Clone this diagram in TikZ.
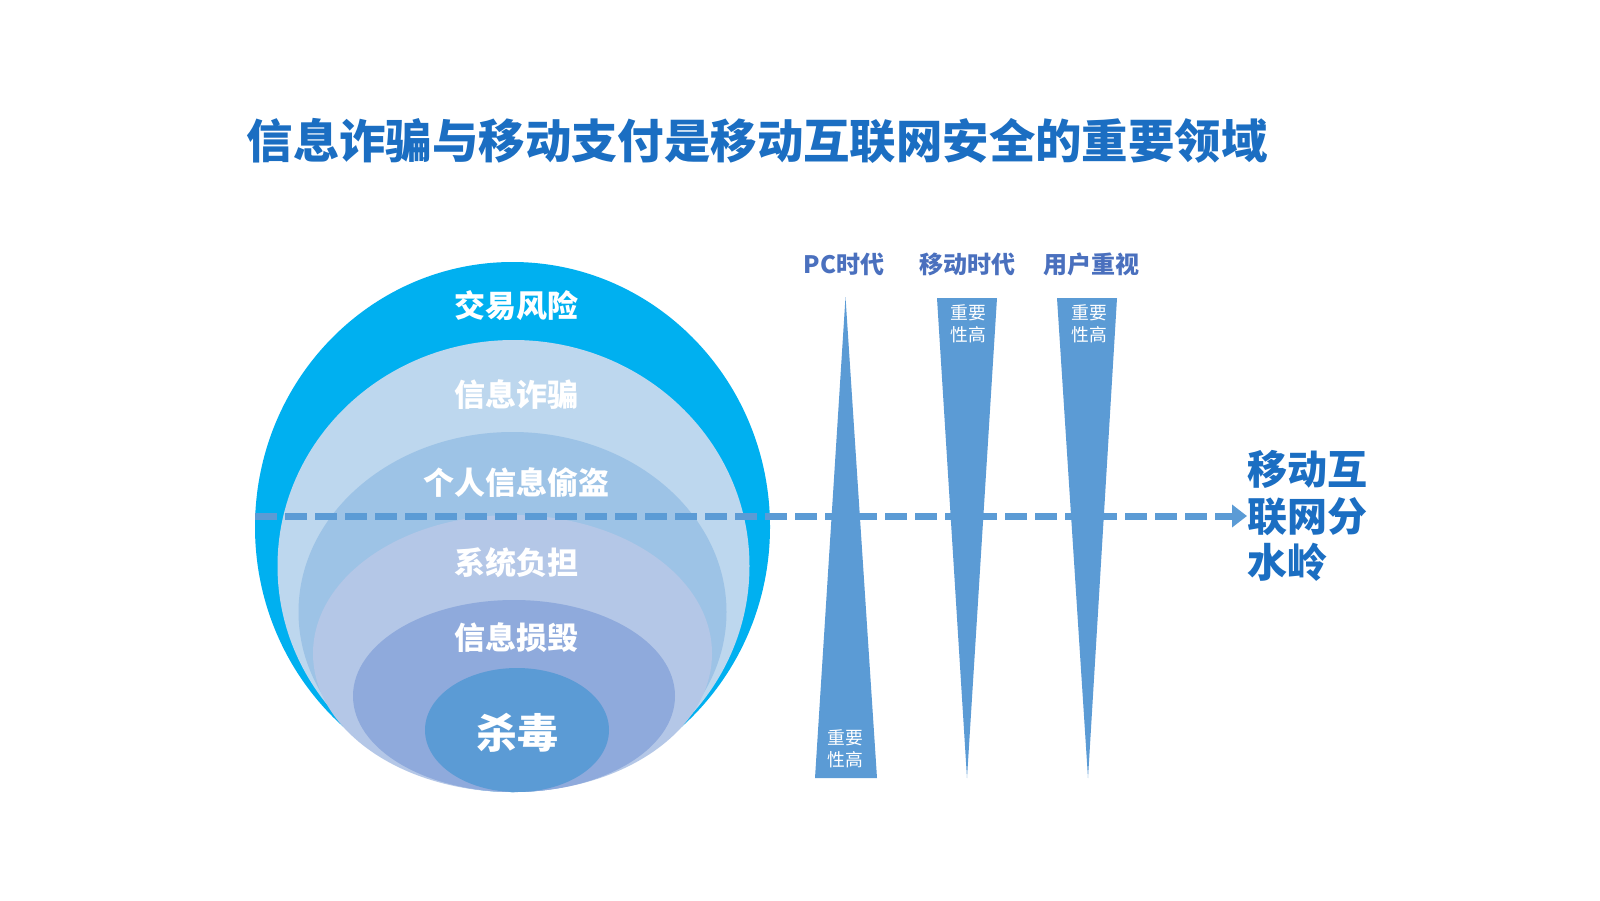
\documentclass[tikz,border=0pt]{standalone}
\usepackage{fontspec}
\setmainfont{Noto Sans CJK SC}
\usetikzlibrary{arrows.meta}
\definecolor{ringA}{HTML}{00B0F0}
\definecolor{ringB}{HTML}{BDD7EE}
\definecolor{ringC}{HTML}{9DC3E6}
\definecolor{ringD}{HTML}{B4C7E7}
\definecolor{ringE}{HTML}{8FAADC}
\definecolor{ringF}{HTML}{5B9BD5}
\definecolor{triblue}{HTML}{5B9BD5}
\definecolor{titleblue}{HTML}{1B6EC2}
\definecolor{erablue}{HTML}{4A70BE}
\begin{document}
\begin{tikzpicture}[x=0.5pt,y=-0.5pt,
  titletext/.style={text=titleblue,font=\bfseries\fontsize{23.2pt}{28pt}\selectfont,inner sep=0pt},
  ringlabel/.style={text=white,font=\bfseries\fontsize{15.5pt}{18pt}\selectfont,inner sep=0pt},
  biglabel/.style={text=white,font=\bfseries\fontsize{20.5pt}{24pt}\selectfont,inner sep=0pt},
  eralabel/.style={text=erablue,font=\bfseries\fontsize{12pt}{14pt}\selectfont,inner sep=0pt},
  smalllabel/.style={text=white,font=\fontsize{8.9pt}{11.25pt}\selectfont,align=center,inner sep=0pt},
  sidetext/.style={text=titleblue,font=\bfseries\fontsize{20pt}{23.3pt}\selectfont,align=left,inner sep=0pt,anchor=west},
  wedge/.style={fill=triblue},
  divider/.style={draw=triblue,line width=3.5pt,dash pattern=on 11pt off 4pt,-{Triangle[length=7.5pt,width=11pt]}}
]
\useasboundingbox (0,0) rectangle (1600,900);
\fill[white] (0,0) rectangle (1600,900);

\node[titletext] (title) at (757,141) {信息诈骗与移动支付是移动互联网安全的重要领域};

% nested layers
\fill[ringA] (512.5,527) ellipse [x radius=257.5, y radius=265];
\fill[ringB] (513.5,566) ellipse [x radius=236, y radius=226];
\fill[ringC] (512.5,612) ellipse [x radius=214, y radius=180];
\fill[ringD] (512.5,653.5) ellipse [x radius=199.5, y radius=138.5];
\fill[ringE] (514,696) ellipse [x radius=161, y radius=96];
\fill[ringF] (517,730) ellipse [x radius=92, y radius=62];

\node[ringlabel] (l1) at (516,306) {交易风险};
\node[ringlabel] (l2) at (516,395) {信息诈骗};
\node[ringlabel] (l3) at (516,483) {个人信息偷盗};
\node[ringlabel] (l4) at (516,563) {系统负担};
\node[ringlabel] (l5) at (516,638) {信息损毁};
\node[biglabel] (l6) at (517,733) {杀毒};

% era wedges
\fill[wedge] (815,778) -- (845.5,297) -- (877,778) -- cycle;
\fill[wedge] (937,298) -- (997,298) -- (967,778) -- cycle;
\fill[wedge] (1057,298) -- (1117,298) -- (1088,778) -- cycle;

\node[eralabel] (e1) at (844,264) {PC时代};
\node[eralabel] (e2) at (967,264) {移动时代};
\node[eralabel] (e3) at (1091,264) {用户重视};

\node[smalllabel] (s1) at (845,749) {重要\\性高};
\node[smalllabel] (s2) at (968,324) {重要\\性高};
\node[smalllabel] (s3) at (1089,324) {重要\\性高};

% watershed
\node[sidetext] (side) at (1247,516) {移动互\\联网分\\水岭};
\coordinate (dstart) at (255,516);
\draw[divider] (dstart) -- (side.west |- dstart);
\end{tikzpicture}
\end{document}
